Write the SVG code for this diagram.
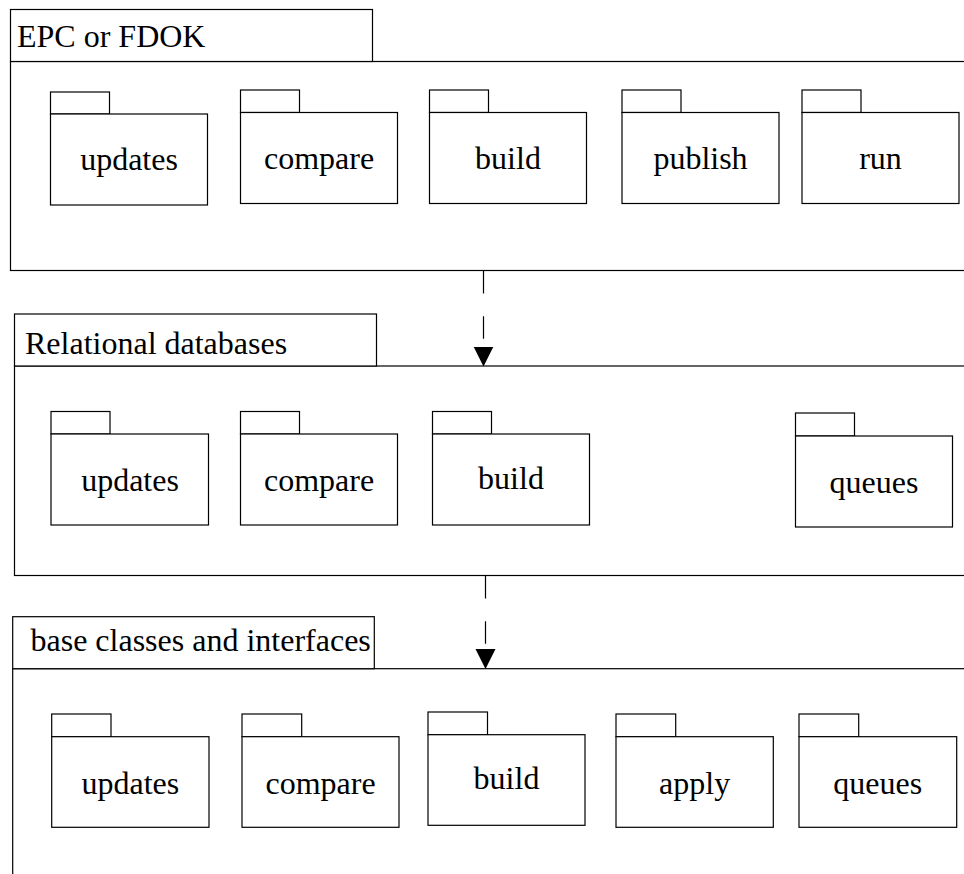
<svg xmlns="http://www.w3.org/2000/svg" width="964" height="874" viewBox="0 0 964 874">
<style>
.box{fill:#fff;stroke:#000;stroke-width:1.2}
.t{font-size:32px;fill:#000}
.c{text-anchor:middle}
.dep{stroke:#000;stroke-width:1.2;stroke-dasharray:22.6 22.6;fill:none}
</style>
<defs>
<marker id="tri" markerUnits="userSpaceOnUse" markerWidth="20" markerHeight="21" refX="0" refY="10" orient="auto" viewBox="0 0 20 21">
<path d="M0,0 L20,10 L0,20 z" fill="#000"/>
</marker>
</defs>
<g font-family="'Liberation Serif', 'Times New Roman', Times, serif">
<g id="pkg-epc">
<rect class="box" x="10.5" y="61.5" width="1000" height="209"/>
<rect class="box" x="10.5" y="9.5" width="362" height="52"/>
<text class="t" x="17" y="47">EPC or FDOK</text>
</g>
<g id="epc-updates">
<rect class="box" x="50.5" y="92" width="59" height="22"/>
<rect class="box" x="50.5" y="114" width="157" height="91"/>
<text class="t c" x="129" y="170">updates</text>
</g>
<g id="epc-compare">
<rect class="box" x="240.5" y="90" width="59" height="22.5"/>
<rect class="box" x="240.5" y="112.5" width="157" height="91"/>
<text class="t c" x="319" y="169">compare</text>
</g>
<g id="epc-build">
<rect class="box" x="429.5" y="90" width="59" height="22.5"/>
<rect class="box" x="429.5" y="112.5" width="157" height="91"/>
<text class="t c" x="508" y="169">build</text>
</g>
<g id="epc-publish">
<rect class="box" x="622" y="90" width="59" height="22.5"/>
<rect class="box" x="622" y="112.5" width="157" height="91"/>
<text class="t c" x="700.5" y="169">publish</text>
</g>
<g id="epc-run">
<rect class="box" x="802" y="90" width="59" height="22.5"/>
<rect class="box" x="802" y="112.5" width="157" height="91"/>
<text class="t c" x="880.5" y="169">run</text>
</g>

<g id="pkg-relational">
<rect class="box" x="14.5" y="366" width="1000" height="209.5"/>
<rect class="box" x="14.5" y="314" width="362" height="52"/>
<text class="t" x="25" y="354">Relational databases</text>
</g>
<g id="rel-updates">
<rect class="box" x="51" y="411.5" width="59" height="22.5"/>
<rect class="box" x="51" y="434" width="157.5" height="91"/>
<text class="t c" x="130" y="490.5">updates</text>
</g>
<g id="rel-compare">
<rect class="box" x="240.5" y="411.5" width="59" height="22.5"/>
<rect class="box" x="240.5" y="434" width="157" height="91"/>
<text class="t c" x="319" y="490.5">compare</text>
</g>
<g id="rel-build">
<rect class="box" x="432.5" y="411.5" width="59" height="22.5"/>
<rect class="box" x="432.5" y="434" width="157" height="91"/>
<text class="t c" x="511" y="489">build</text>
</g>
<g id="rel-queues">
<rect class="box" x="795.5" y="413" width="59" height="23"/>
<rect class="box" x="795.5" y="436" width="157" height="91"/>
<text class="t c" x="874" y="492.5">queues</text>
</g>

<g id="pkg-base">
<rect class="box" x="12.7" y="668.7" width="1000" height="260"/>
<rect class="box" x="12.7" y="616.7" width="361.6" height="52"/>
<text class="t" x="30.5" y="650.5">base classes and interfaces</text>
</g>
<g id="base-updates">
<rect class="box" x="51.7" y="714" width="59.3" height="22.7"/>
<rect class="box" x="51.7" y="736.7" width="157.3" height="90.6"/>
<text class="t c" x="130.3" y="794">updates</text>
</g>
<g id="base-compare">
<rect class="box" x="242" y="714" width="59.7" height="22.7"/>
<rect class="box" x="242" y="736.7" width="157" height="90.6"/>
<text class="t c" x="320.5" y="794">compare</text>
</g>
<g id="base-build">
<rect class="box" x="428" y="712" width="59.5" height="22.7"/>
<rect class="box" x="428" y="734.7" width="157" height="90.6"/>
<text class="t c" x="506.5" y="789">build</text>
</g>
<g id="base-apply">
<rect class="box" x="616" y="714" width="59.7" height="22.7"/>
<rect class="box" x="616" y="736.7" width="157.3" height="90.6"/>
<text class="t c" x="694.6" y="794">apply</text>
</g>
<g id="base-queues">
<rect class="box" x="799" y="714" width="59.7" height="22.7"/>
<rect class="box" x="799" y="736.7" width="157.7" height="90.6"/>
<text class="t c" x="877.8" y="794">queues</text>
</g>
</g>
<g id="connectors">
<line class="dep" x1="483.5" y1="271" x2="483.5" y2="346.5" marker-end="url(#tri)"/>
<line class="dep" x1="485.5" y1="576" x2="485.5" y2="649" marker-end="url(#tri)"/>
</g>
</svg>
